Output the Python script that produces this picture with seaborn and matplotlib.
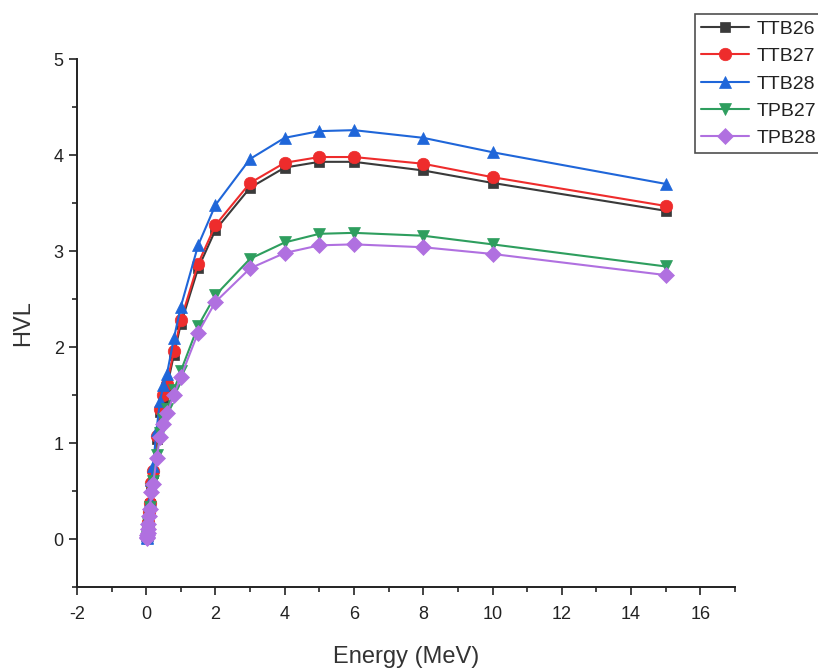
import matplotlib
matplotlib.use("Agg")
import matplotlib.pyplot as plt
import seaborn as sns
import pandas as pd
from matplotlib.ticker import MultipleLocator

energy = [0.015, 0.02, 0.03, 0.04, 0.05, 0.06, 0.08, 0.1, 0.15, 0.2, 0.3, 0.4,
          0.5, 0.6, 0.8, 1, 1.5, 2, 3, 4, 5, 6, 8, 10, 15]

ttb26 = [0.01, 0.02, 0.04, 0.07, 0.11, 0.17, 0.27, 0.36, 0.56, 0.69, 1.04, 1.32,
         1.47, 1.58, 1.92, 2.24, 2.82, 3.22, 3.66, 3.87, 3.93, 3.93, 3.84, 3.71, 3.42]
ttb27 = [0.01, 0.02, 0.04, 0.07, 0.12, 0.18, 0.28, 0.37, 0.58, 0.71, 1.07, 1.35,
         1.50, 1.62, 1.96, 2.28, 2.87, 3.27, 3.71, 3.92, 3.98, 3.98, 3.91, 3.77, 3.47]
ttb28 = [0.01, 0.02, 0.04, 0.08, 0.13, 0.20, 0.30, 0.40, 0.62, 0.76, 1.14, 1.44,
         1.60, 1.72, 2.09, 2.42, 3.06, 3.48, 3.96, 4.18, 4.25, 4.26, 4.18, 4.03, 3.70]
tpb27 = [0.01, 0.02, 0.04, 0.07, 0.11, 0.17, 0.25, 0.33, 0.52, 0.60, 0.88, 1.10,
         1.25, 1.35, 1.55, 1.75, 2.22, 2.54, 2.92, 3.09, 3.18, 3.19, 3.16, 3.07, 2.84]
tpb28 = [0.01, 0.02, 0.04, 0.06, 0.10, 0.16, 0.24, 0.31, 0.49, 0.57, 0.84, 1.06,
         1.20, 1.31, 1.50, 1.69, 2.15, 2.47, 2.82, 2.98, 3.06, 3.07, 3.04, 2.97, 2.75]

series_names = ["TTB26", "TTB27", "TTB28", "TPB27", "TPB28"]
series_vals = [ttb26, ttb27, ttb28, tpb27, tpb28]
colors = ["#3a3a3a", "#ee2c2c", "#1f66d9", "#2e9e5e", "#b070e0"]
markers = ["s", "o", "^", "v", "D"]
msizes = [7, 9, 9, 9, 8]

df = pd.concat([pd.DataFrame({"Energy": energy, "HVL": v, "Sample": n})
                for n, v in zip(series_names, series_vals)], ignore_index=True)

sns.set_style("ticks")
plt.rcParams["font.family"] = ["Liberation Sans", "DejaVu Sans"]
plt.rcParams["axes.unicode_minus"] = False

fig = plt.figure(figsize=(8.18, 6.72), dpi=100)
ax = fig.add_axes([0.094, 0.1265, 0.8045, 0.7855])

for n, c, m, s in zip(series_names, colors, markers, msizes):
    sub = df[df["Sample"] == n]
    sns.lineplot(data=sub, x="Energy", y="HVL", ax=ax, color=c, marker=m,
                 markersize=s, markeredgewidth=0.5, markeredgecolor=c,
                 linewidth=1.5, label=n, sort=False)

ax.set_xlim(-2, 17)
ax.set_ylim(-0.5, 5)
ax.set_xticks(range(-2, 17, 2))
ax.set_yticks(range(0, 6))
ax.xaxis.set_minor_locator(MultipleLocator(1))
ax.yaxis.set_minor_locator(MultipleLocator(0.5))
ax.tick_params(which="major", length=6, width=1.2, labelsize=13, colors="#222222")
ax.tick_params(axis="x", which="major", pad=8)
ax.tick_params(which="minor", length=3.5, width=1.2)
for sp in ["top", "right"]:
    ax.spines[sp].set_visible(False)
for sp in ["left", "bottom"]:
    ax.spines[sp].set_linewidth(1.4)
    ax.spines[sp].set_color("#222222")

ax.set_xlabel("Energy (MeV)", fontsize=17, color="#333333", labelpad=16)
ax.set_ylabel("HVL", fontsize=17, color="#333333", labelpad=14)

leg = ax.legend(loc="upper left", bbox_to_anchor=(0.8374, 0.993),
                bbox_transform=fig.transFigure, fontsize=14, frameon=True,
                fancybox=False, edgecolor="#222222", borderpad=0.3,
                handlelength=2.5, labelspacing=0.5, handletextpad=0.4)
leg.get_frame().set_linewidth(1.2)
for t in leg.get_texts():
    t.set_color("#222222")

fig.savefig("out.png", dpi=100)
